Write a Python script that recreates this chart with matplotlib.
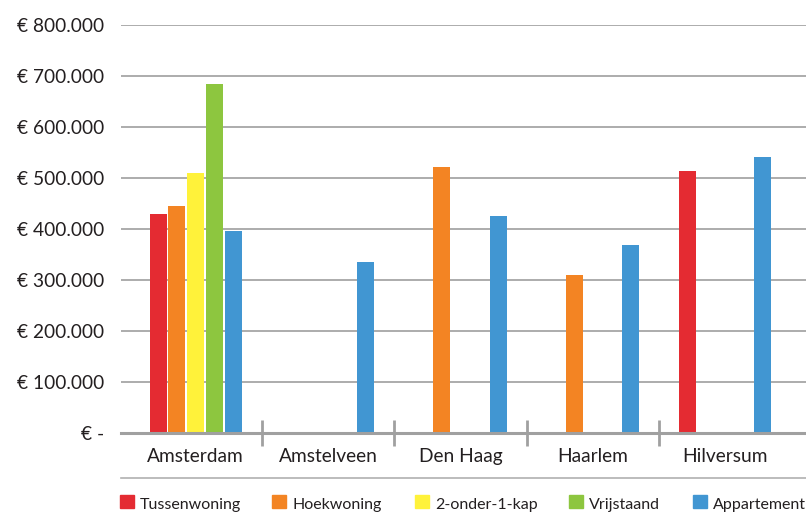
import matplotlib

matplotlib.use("Agg")

import matplotlib.pyplot as plt
import numpy as np
from matplotlib.lines import Line2D
from matplotlib.patches import Rectangle
from matplotlib.ticker import FuncFormatter

plt.rcParams["font.family"] = ["Lato", "DejaVu Sans"]

# average house prices per city and house type
cities = ["Amsterdam", "Amstelveen", "Den Haag", "Haarlem", "Hilversum"]
types = ["Tussenwoning", "Hoekwoning", "2-onder-1-kap", "Vrijstaand", "Appartement"]
colors = ["#e42b32", "#f38423", "#fff23a", "#8dc63f", "#4196d2"]

tussenwoning = [429000, None, None, None, 514000]
hoekwoning = [445000, None, 521000, 310000, None]
twee_onder_een_kap = [510000, None, None, None, None]
vrijstaand = [684000, None, None, None, None]
appartement = [396000, 335000, 425000, 368000, 541000]

series = [tussenwoning, hoekwoning, twee_onder_een_kap, vrijstaand, appartement]
y_ticks = [0, 100000, 200000, 300000, 400000, 500000, 600000, 700000, 800000]

fig = plt.figure(figsize=(8.06, 5.12), dpi=100)
ax = fig.add_axes([121 / 806, 79 / 512, 685 / 806, 408 / 512])

x = np.arange(len(cities))
step = 0.142
width = 0.128
for i, (vals, col) in enumerate(zip(series, colors)):
    offs = (i - 2) * step
    for xi, v in zip(x, vals):
        if v is not None:
            ax.bar(xi + offs, v, width=width, color=col, zorder=3)

ax.set_xlim(-0.564, 4.609)
ax.set_ylim(0, 800000)

# value axis
ax.set_yticks(y_ticks)
ax.yaxis.set_major_formatter(FuncFormatter(
    lambda v, p: "€ -" if v == 0 else "€ " + f"{int(v):,}".replace(",", ".")))
ax.tick_params(axis="y", length=0, pad=12, labelsize=13.8, labelcolor="#231f20")
ax.grid(axis="y", color="#a6a6a6", linewidth=1.3, zorder=0)

# category axis: boundary ticks, labels in between
ax.set_xticks(np.arange(0.5, len(cities) - 1, 1.0))
ax.set_xticklabels([])
ax.set_xticks(x, minor=True)
ax.set_xticklabels(cities, minor=True)
ax.tick_params(axis="x", which="major", direction="inout", length=19, width=2,
               color="#a0a0a0")
ax.tick_params(axis="x", which="minor", length=0, pad=11, labelsize=13.8,
               labelcolor="#231f20")

for side in ["top", "right", "left"]:
    ax.spines[side].set_visible(False)
ax.spines["bottom"].set_color("#a0a0a0")
ax.spines["bottom"].set_linewidth(2.2)
ax.spines["bottom"].set_zorder(4)

# separator above the legend
fig.add_artist(Line2D([121 / 806, 1.0], [34 / 512, 34 / 512], color="#b0b0b0",
                      linewidth=1.2))

# legend row
legend_x = [120, 272, 415, 569, 693]
for lx, name, col in zip(legend_x, types, colors):
    fig.add_artist(Rectangle((lx / 806, 4 / 512), 14 / 806, 13 / 512, color=col,
                             transform=fig.transFigure))
    fig.text((lx + 20) / 806, 3 / 512, name, fontsize=11.5, color="#231f20",
             va="baseline", ha="left")

fig.savefig("out.png", dpi=100)
